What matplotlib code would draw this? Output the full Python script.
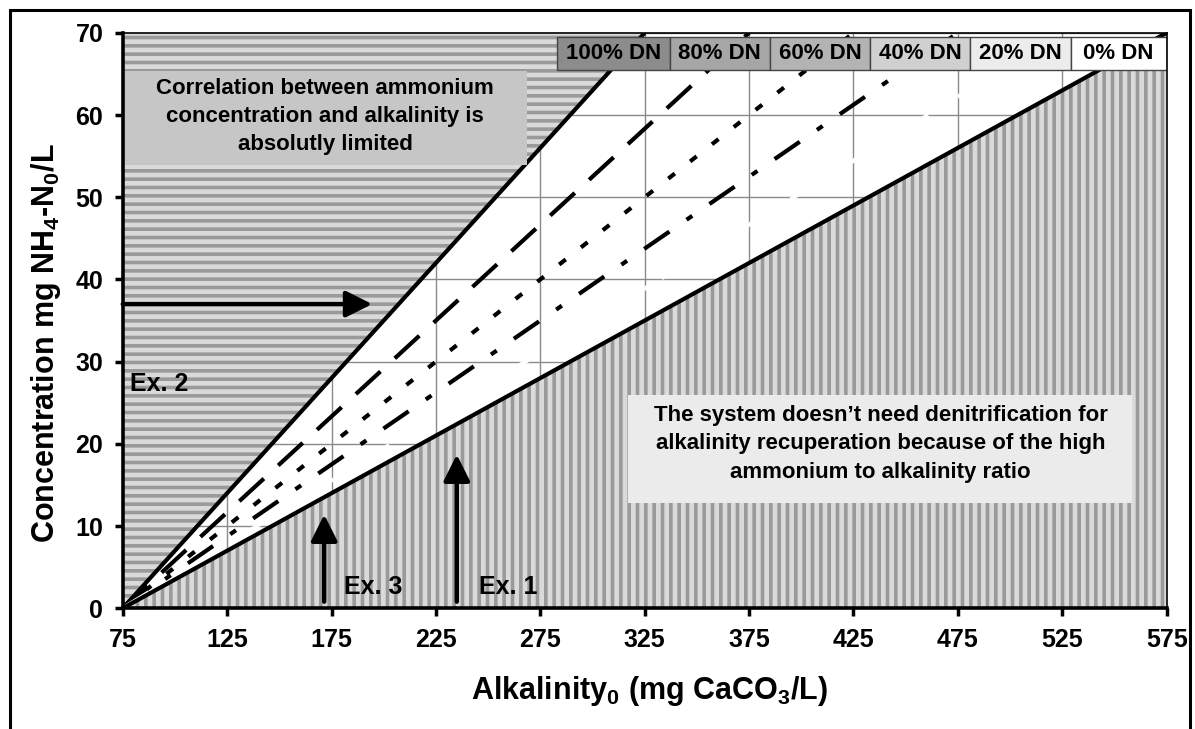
import matplotlib
matplotlib.use("Agg")
import matplotlib.pyplot as plt
from matplotlib.patches import Rectangle

plt.rcParams['font.family'] = ['Liberation Sans', 'DejaVu Sans']
plt.rcParams['font.weight'] = 'bold'
plt.rcParams['mathtext.fontset'] = 'custom'
plt.rcParams['mathtext.rm'] = 'Liberation Sans:bold'
plt.rcParams['mathtext.it'] = 'Liberation Sans:bold:italic'
plt.rcParams['mathtext.default'] = 'rm'
plt.rcParams['lines.scale_dashes'] = False
plt.rcParams['hatch.linewidth'] = 2.6
plt.rcParams['hatch.color'] = '#9a9a9a'

# lines start at residual alkalinity 75 and reach N = 70 at these alkalinities
alk_start = 75
n_top = 70
dn_labels = ['100% DN', '80% DN', '60% DN', '40% DN', '20% DN', '0% DN']
alk_at_top = [325, 375, 425, 475, 525, 575]
line_colors = ['black', 'black', 'black', 'black', 'white', 'black']
line_dashes = [None, (24, 14), (6, 14), (22, 15, 5, 15), (22, 10, 5, 10), None]
legend_faces = ['#8c8c8c', '#a6a6a6', '#b3b3b3', '#d0d0d0', '#ececec', '#ffffff']
legend_edges = [283, 337, 385, 433, 481, 529, 575]

x_ticks = [75, 125, 175, 225, 275, 325, 375, 425, 475, 525, 575]
y_ticks = [0, 10, 20, 30, 40, 50, 60, 70]

# examples: (x start, y start, x end, y end)
ex2 = (75, 37, 194.5, 37)
ex3 = (171.5, 0.8, 171.5, 11.4)
ex1 = (235, 0.8, 235, 18.7)

fig = plt.figure(figsize=(11.95, 7.29), dpi=100)
ax = fig.add_axes([0.1027, 0.1656, 0.8736, 0.7894])
ax.set_xlim(alk_start, 575)
ax.set_ylim(0, n_top)

ax.set_axisbelow(True)
ax.grid(True, color='#8a8a8a', lw=1.0, zorder=0)

# hatched zones
ax.fill_betweenx([0, n_top], alk_start, [alk_start, alk_at_top[0]],
                 facecolor='#dadada', edgecolor='#9a9a9a', hatch='--', lw=0, zorder=1)
ax.fill_between([alk_start, alk_at_top[-1]], 0, [0, n_top],
                facecolor='#dadada', edgecolor='#9a9a9a', hatch='||', lw=0, zorder=1)

for xe, c, d in zip(alk_at_top, line_colors, line_dashes):
    ln, = ax.plot([alk_start, xe], [0, n_top], color=c, lw=3.0, zorder=3,
                  solid_capstyle='butt', dash_capstyle='butt')
    if d is not None:
        ln.set_dashes(d)

# text boxes
ax.add_patch(Rectangle((75, 53.9), 268.4 - 75, 65.3 - 53.9, facecolor='#c6c6c6',
                       edgecolor='none', zorder=4))
ax.text(172, 59.8, 'Correlation between ammonium\nconcentration and alkalinity is\nabsolutly limited',
        ha='center', va='center', fontsize=16, fontweight='bold', linespacing=1.45, zorder=5)

ax.add_patch(Rectangle((317, 12.8), 558.3 - 317, 26 - 12.8, facecolor='#ebebeb',
                       edgecolor='none', zorder=4))
ax.text(438, 20.0, 'The system doesn\u2019t need denitrification for\nalkalinity recuperation because of the high\nammonium to alkalinity ratio',
        ha='center', va='center', fontsize=16, fontweight='bold', linespacing=1.45, zorder=5)

# legend boxes
for i, lab in enumerate(dn_labels):
    x0, x1 = legend_edges[i], legend_edges[i + 1]
    ax.add_patch(Rectangle((x0, 65.5), x1 - x0, 4.0, facecolor=legend_faces[i],
                           edgecolor='#444444', lw=1.0, zorder=6))
    ax.text((x0 + x1) / 2, 67.5, lab, ha='center', va='center', fontsize=16,
            fontweight='bold', zorder=7)

# example arrows
aprops = dict(arrowstyle='-|>,head_length=0.8,head_width=0.4', color='black',
              lw=3.2, mutation_scale=20, shrinkA=0, shrinkB=0)
for ex in (ex2, ex3, ex1):
    ax.annotate('', xy=(ex[2], ex[3]), xytext=(ex[0], ex[1]), arrowprops=aprops, zorder=8)
ax.text(78.5, 27.3, 'Ex. 2', fontsize=18, fontweight='bold', va='center', ha='left', zorder=8)
ax.text(181, 2.6, 'Ex. 3', fontsize=18, fontweight='bold', va='center', ha='left', zorder=8)
ax.text(245.5, 2.6, 'Ex. 1', fontsize=18, fontweight='bold', va='center', ha='left', zorder=8)

ax.set_xticks(x_ticks)
ax.set_yticks(y_ticks)
ax.tick_params(direction='out', length=6, width=2.5, pad=8, labelsize=18)
for lab in ax.get_xticklabels() + ax.get_yticklabels():
    lab.set_fontweight('bold')

for s in ['left', 'bottom']:
    ax.spines[s].set_linewidth(2.6)
for s in ['top', 'right']:
    ax.spines[s].set_linewidth(1.2)
for s in ax.spines.values():
    s.set_zorder(9)

ax.set_xlabel('Alkalinity$_0$ (mg CaCO$_3$/L)', fontsize=22, fontweight='bold',
              labelpad=16, x=0.505)
ax.set_ylabel('Concentration mg NH$_4$-N$_0$/L', fontsize=22, fontweight='bold',
              labelpad=9, y=0.46)

# outer frame
fig.patches.append(Rectangle((10 / 1195, -0.05), 1180 / 1195, 1 - 10 / 729 + 0.05,
                             transform=fig.transFigure, fill=False, edgecolor='black',
                             lw=2.2, zorder=10))

fig.savefig('out.png', dpi=100)
